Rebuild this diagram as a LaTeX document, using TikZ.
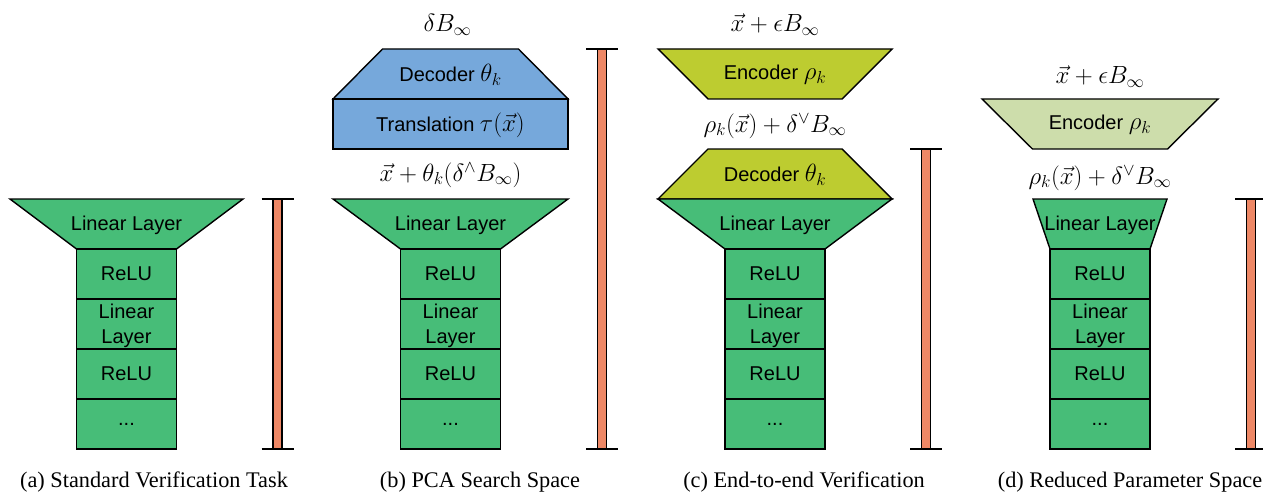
\documentclass[tikz,border=0pt]{standalone}
\usepackage[no-math]{fontspec}
\setmainfont{Liberation Serif}
\newfontfamily\boxfont{Liberation Sans}
\definecolor{netgreen}{HTML}{47BD78}
\definecolor{pcablue}{HTML}{76A8DB}
\definecolor{encolive}{HTML}{BDCC30}
\definecolor{enclight}{HTML}{CDDDAB}
\definecolor{barorange}{HTML}{EE8866}
\tikzset{
  shapeline/.style={draw=black, line width=1.4pt, line join=miter},
  boxtext/.style={font=\boxfont\fontsize{20}{25}\selectfont, align=center, inner sep=0pt},
  layer/.style={shapeline, fill=netgreen, minimum width=100pt, minimum height=50pt,
                inner sep=0pt, font=\boxfont\fontsize{20}{25}\selectfont, align=center},
  mathlbl/.style={font=\fontsize{23}{28}\selectfont, inner sep=0pt},
  captext/.style={font=\fontsize{22.3}{26}\selectfont, inner sep=0pt},
}
% math inside the shapes, set a little larger than the sans text
\newcommand\shapemath[1]{{\fontsize{23}{25}\selectfont$#1$}}
% vertical range bar with end caps
\newcommand\rangebar[3]{%
  \coordinate (#3-t) at (#1,#2);
  \coordinate (#3-b) at (#1,449);
  \filldraw[fill=barorange, draw=black, line width=1.1pt] ([xshift=-4.5pt]#3-t) rectangle ([xshift=4.5pt]#3-b);
  \draw[line width=1.4pt] ([xshift=-16pt]#3-t) -- ([xshift=16pt]#3-t);
  \draw[line width=1.4pt] ([xshift=-16pt]#3-b) -- ([xshift=16pt]#3-b);
}
% ReLU / Linear / ReLU / ... column
\newcommand\netcolumn{%
  \node[layer] (r1) at (0,274) {ReLU};
  \node[layer] (l2) at (0,324) {};
  \node[boxtext] (l2text) at (0,325.5) {Linear\\Layer};
  \node[layer] (r2) at (0,374) {ReLU};
  \node[layer] (dots) at (0,424) {...};
}
\begin{document}
\begin{tikzpicture}[x=1pt, y=-1pt]
\useasboundingbox (0,0) rectangle (1263,492);

% (a) standard verification task
\begin{scope}[shift={(126.5,0)}, name prefix=a-]
  \filldraw[shapeline, fill=netgreen] (-116.5,199) -- (116.5,199) -- (50,249) -- (-50,249) -- cycle;
  \node[boxtext] (lin) at (0,225) {Linear Layer};
  \netcolumn
\end{scope}
\rangebar{277.5}{199}{abar}
\node[captext] (capa) at (154,482) {(a) Standard Verification Task};

% (b) PCA search space
\begin{scope}[shift={(450.5,0)}, name prefix=b-]
  \filldraw[shapeline, fill=pcablue] (-68,49) -- (68,49) -- (117.5,99) -- (-117.5,99) -- cycle;
  \node[boxtext] (dec) at (0,75) {Decoder \shapemath{\theta_k}};
  \filldraw[shapeline, fill=pcablue] (-117.5,99) rectangle (117.5,149);
  \node[boxtext] (trans) at (0,125) {Translation \shapemath{\tau(\vec{x})}};
  \node[mathlbl] (top) at (-3,25) {$\delta B_\infty$};
  \node[mathlbl] (mid) at (0,175) {$\vec{x}+\theta_k(\delta^{\wedge} B_\infty)$};
  \filldraw[shapeline, fill=netgreen] (-117.5,199) -- (117.5,199) -- (50,249) -- (-50,249) -- cycle;
  \node[boxtext] (lin) at (0,225) {Linear Layer};
  \netcolumn
\end{scope}
\rangebar{602}{49}{bbar}
\node[captext] (capb) at (480,482) {(b) PCA Search Space};

% (c) end-to-end verification
\begin{scope}[shift={(775,0)}, name prefix=c-]
  \node[mathlbl] (top) at (0,25) {$\vec{x}+\epsilon B_\infty$};
  \filldraw[shapeline, fill=encolive] (-117,49) -- (117,49) -- (67,99) -- (-67,99) -- cycle;
  \node[boxtext] (enc) at (0,75) {Encoder \shapemath{\rho_k}};
  \node[mathlbl] (mid) at (0,126) {$\rho_k(\vec{x})+\delta^{\vee} B_\infty$};
  \filldraw[shapeline, fill=encolive] (-67,149) -- (67,149) -- (117,199) -- (-117,199) -- cycle;
  \node[boxtext] (dec) at (0,175) {Decoder \shapemath{\theta_k}};
  \filldraw[shapeline, fill=netgreen] (-117,199) -- (117,199) -- (50,249) -- (-50,249) -- cycle;
  \node[boxtext] (lin) at (0,225) {Linear Layer};
  \netcolumn
\end{scope}
\rangebar{926}{149}{cbar}
\node[captext] (capc) at (804,482) {(c) End-to-end Verification};

% (d) reduced parameter space
\begin{scope}[shift={(1100,0)}, name prefix=d-]
  \node[mathlbl] (top) at (0,77) {$\vec{x}+\epsilon B_\infty$};
  \filldraw[shapeline, fill=enclight] (-118,99) -- (118,99) -- (67.5,149) -- (-67.5,149) -- cycle;
  \node[boxtext] (enc) at (0,125) {Encoder \shapemath{\rho_k}};
  \node[mathlbl] (mid) at (0,178) {$\rho_k(\vec{x})+\delta^{\vee} B_\infty$};
  \filldraw[shapeline, fill=netgreen] (-67,199) -- (67,199) -- (50,249) -- (-50,249) -- cycle;
  \node[boxtext] (lin) at (0,225) {Linear Layer};
  \netcolumn
\end{scope}
\rangebar{1251}{199}{dbar}
\node[captext] (capd) at (1130,482) {(d) Reduced Parameter Space};
\end{tikzpicture}
\end{document}
